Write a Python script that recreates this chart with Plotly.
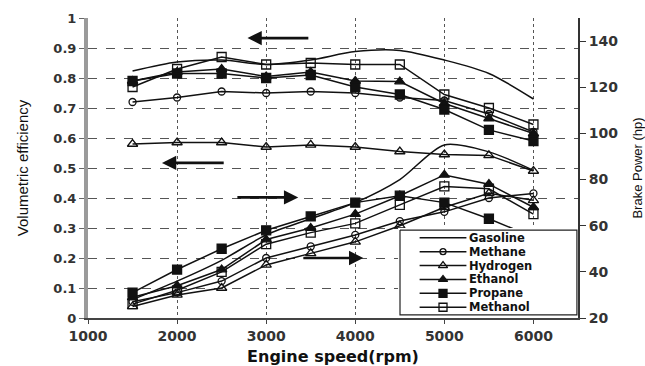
import plotly.graph_objects as go

# ---------------- data ----------------
rpm = [1500, 2000, 2500, 3000, 3500, 4000, 4500, 5000, 5500, 6000]

fuels = ["Gasoline", "Methane", "Hydrogen", "Ethanol", "Propane", "Methanol"]

# Volumetric efficiency (left axis)
ve_gasoline = [0.823, 0.853, 0.86, 0.845, 0.86, 0.888, 0.892, 0.86, 0.815, 0.73]
ve_methane = [0.72, 0.735, 0.755, 0.75, 0.755, 0.75, 0.735, 0.725, 0.68, 0.62]
ve_hydrogen = [0.58, 0.585, 0.585, 0.57, 0.577, 0.57, 0.555, 0.545, 0.542, 0.49]
ve_ethanol = [0.79, 0.82, 0.83, 0.805, 0.82, 0.79, 0.788, 0.715, 0.665, 0.615]
ve_propane = [0.79, 0.815, 0.815, 0.80, 0.81, 0.77, 0.745, 0.695, 0.627, 0.59]
ve_methanol = [0.77, 0.83, 0.87, 0.845, 0.85, 0.845, 0.845, 0.745, 0.70, 0.645]

# Brake power, hp (right axis)
pw_gasoline = [28, 36, 45, 56, 63, 70, 80, 95, 92, 84]
pw_methane = [27, 31, 36, 46, 51, 56, 62, 66, 72, 74]
pw_hydrogen = [25, 30, 33, 43, 48, 53, 60, 68, 74, 71]
pw_ethanol = [29, 34, 41, 54, 59, 65, 73, 82, 78, 68]
pw_propane = [31, 41, 50, 58, 64, 70, 73, 70, 63, 55]
pw_methanol = [26, 32, 40, 52, 57, 61, 69, 77, 76, 65]

ve_series = [ve_gasoline, ve_methane, ve_hydrogen, ve_ethanol, ve_propane, ve_methanol]
pw_series = [pw_gasoline, pw_methane, pw_hydrogen, pw_ethanol, pw_propane, pw_methanol]

# ---------------- styles ----------------
symbols = [None, "circle-open", "triangle-up-open", "triangle-up", "square", "square-open"]
msizes = [0, 7, 9, 9, 9, 9]
INK = "#111111"
GRID = "#555555"

fig = go.Figure()


def add_series(ys, i, yaxis):
    if symbols[i] is None:
        fig.add_trace(go.Scatter(
            x=rpm, y=ys, mode="lines", name=fuels[i], yaxis=yaxis,
            line=dict(color=INK, width=1.5, shape="spline", smoothing=0.8),
            showlegend=False))
    else:
        fig.add_trace(go.Scatter(
            x=rpm, y=ys, mode="lines+markers", name=fuels[i], yaxis=yaxis,
            line=dict(color=INK, width=1.5),
            marker=dict(symbol=symbols[i], size=msizes[i], color=INK,
                        line=dict(color=INK, width=1.3)),
            showlegend=False))


for i in range(len(fuels)):
    add_series(ve_series[i], i, "y")
for i in range(len(fuels)):
    add_series(pw_series[i], i, "y2")

# ---------------- legend box (drawn on a helper axis pair) ----------------
n = len(fuels)
pad = 0.55
fig.add_trace(go.Scatter(
    x=[0.011, 0.994, 0.994, 0.011, 0.011],
    y=[pad, pad, -(n - 1) - pad, -(n - 1) - pad, pad],
    mode="lines", fill="toself", fillcolor="white",
    line=dict(color="#222222", width=1.2),
    xaxis="x3", yaxis="y3", hoverinfo="skip", showlegend=False))
for i in range(n):
    fig.add_trace(go.Scatter(
        x=[0.12, 0.25, 0.38], y=[-i, -i, -i], mode="lines",
        line=dict(color=INK, width=1.5), xaxis="x3", yaxis="y3",
        hoverinfo="skip", showlegend=False))
    if symbols[i] is not None:
        fig.add_trace(go.Scatter(
            x=[0.25], y=[-i], mode="markers",
            marker=dict(symbol=symbols[i], size=msizes[i] - 1, color=INK,
                        line=dict(color=INK, width=1.3)),
            xaxis="x3", yaxis="y3", hoverinfo="skip", showlegend=False))
    fig.add_annotation(
        x=0.39, y=-i, xref="x3", yref="y3", text=fuels[i], showarrow=False,
        xanchor="left", yanchor="middle", borderpad=0,
        font=dict(family="DejaVu Sans", size=11.5, color=INK, weight="bold"))

# ---------------- arrows ----------------
arrows = [  # (tail_x, head_x, y) on the left-axis scale
    (3490, 2790, 0.933),
    (2540, 1830, 0.517),
    (2660, 3360, 0.402),
    (3400, 4090, 0.200),
]
for tx, hx, yy in arrows:
    fig.add_annotation(
        x=hx, y=yy, ax=tx, ay=yy, xref="x", yref="y", axref="x", ayref="y",
        text="", showarrow=True, arrowhead=2, arrowsize=1.1, arrowwidth=2.6,
        arrowcolor=INK)

# ---------------- layout ----------------
fig.update_layout(
    width=645, height=366,
    margin=dict(l=88, r=67, t=18, b=48, autoexpand=False),
    paper_bgcolor="white", plot_bgcolor="white",
    font=dict(family="Liberation Sans, Arial", color=INK),
    xaxis=dict(
        range=[1000, 6500], tick0=1000, dtick=1000, automargin=False,
        showgrid=True, gridcolor=GRID, griddash="dot", gridwidth=1,
        showline=True, linecolor="#444444", linewidth=2,
        ticks="outside", ticklen=4, tickcolor="#444444",
        tickfont=dict(family="DejaVu Sans", size=14, color="#333333", weight="bold"),
        zeroline=False,
        title=dict(text="Engine speed(rpm)", standoff=9,
                   font=dict(family="DejaVu Sans", size=16, color=INK, weight="bold")),
    ),
    yaxis=dict(
        range=[0, 1], tick0=0, dtick=0.1, automargin=False,
        showgrid=True, gridcolor=GRID, griddash="dash", gridwidth=1,
        showline=True, linecolor="#9a9a9a", linewidth=4,
        ticks="outside", ticklen=5, tickcolor="#666666",
        tickfont=dict(family="DejaVu Sans", size=13, color="#333333", weight="bold"),
        zeroline=False,
        title=dict(text="Volumetric efficiency", standoff=22,
                   font=dict(family="Liberation Sans", size=15, color=INK)),
    ),
    yaxis2=dict(
        overlaying="y", side="right", anchor="x", automargin=False,
        range=[20, 150], tick0=20, dtick=20,
        showgrid=False, showline=True, linecolor="#333333", linewidth=2,
        ticks="outside", ticklen=6, tickcolor="#333333",
        tickfont=dict(family="DejaVu Sans", size=14, color="#333333", weight="bold"),
        zeroline=False,
        title=dict(text="Brake Power (hp)", standoff=19,
                   font=dict(family="Liberation Sans", size=13, color=INK)),
    ),
    xaxis3=dict(domain=[0.6327, 1.0], range=[0, 1], anchor="y3",
                visible=False, fixedrange=True),
    yaxis3=dict(domain=[0.0033, 0.30], range=[-(n - 1) - 0.7, 0.7], anchor="x3",
                visible=False, fixedrange=True),
    showlegend=False,
)

fig.write_html("out.html")
